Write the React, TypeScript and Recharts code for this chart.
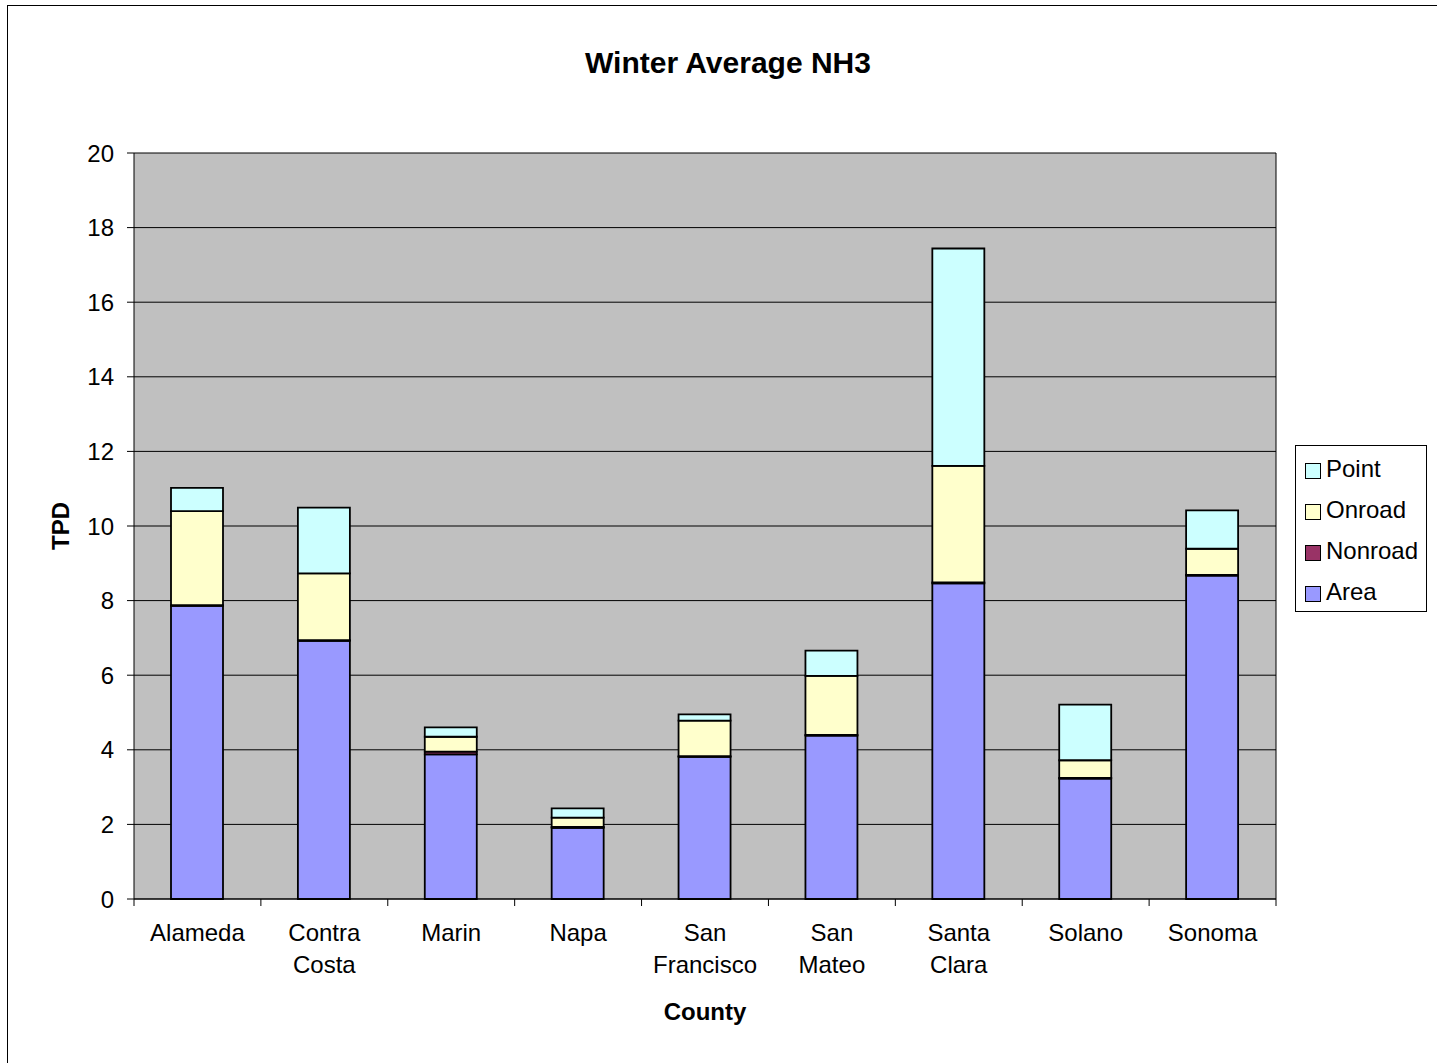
import React from "react";
import {
  Bar,
  BarChart,
  CartesianGrid,
  Legend,
  ReferenceLine,
  XAxis,
  YAxis,
} from "recharts";

const counties = [
  "Alameda",
  "Contra Costa",
  "Marin",
  "Napa",
  "San Francisco",
  "San Mateo",
  "Santa Clara",
  "Solano",
  "Sonoma",
];
const areaTpd = [7.86, 6.92, 3.88, 1.91, 3.81, 4.38, 8.46, 3.23, 8.67];
const nonroadTpd = [0.02, 0.02, 0.07, 0.02, 0.02, 0.02, 0.03, 0.02, 0.02];
const onroadTpd = [2.52, 1.79, 0.4, 0.25, 0.95, 1.58, 3.12, 0.47, 0.7];
const pointTpd = [0.62, 1.76, 0.25, 0.25, 0.17, 0.68, 5.83, 1.49, 1.03];
const tpdTicks = [0, 2, 4, 6, 8, 10, 12, 14, 16, 18, 20];

const series = [
  { key: "Area", fill: "#9999FF" },
  { key: "Nonroad", fill: "#993366" },
  { key: "Onroad", fill: "#FFFFCC" },
  { key: "Point", fill: "#CCFFFF" },
];

const rows = counties.map((county, i) => ({
  county,
  Area: areaTpd[i],
  Nonroad: nonroadTpd[i],
  Onroad: onroadTpd[i],
  Point: pointTpd[i],
}));

// category boundaries 0..n, used only for the tick marks between counties
const edgeTicks = counties.map((_, i) => i).concat(counties.length);
const countyIndex = (d: any) => counties.indexOf(d.county);

const FONT = "'Liberation Sans', Arial, sans-serif";

const CountyTick = ({ x, y, payload }: any) => {
  const words = String(payload.value).split(" ");
  return (
    <g>
      {words.map((w, i) => (
        <text
          key={w}
          x={x}
          y={y + 41 + i * 32}
          textAnchor="middle"
          fontSize={24}
          fill="#000"
          fontFamily={FONT}
        >
          {w}
        </text>
      ))}
    </g>
  );
};

const NoLabel = () => <g />;

const LegendBox = ({ payload }: any) => {
  const items = [...(payload || [])].reverse();
  return (
    <div
      style={{
        width: 130,
        height: 163,
        border: "1px solid #000",
        background: "#fff",
        paddingTop: 2,
        fontFamily: FONT,
        fontSize: 24,
        color: "#000",
      }}
    >
      {items.map((item: any) => (
        <div
          key={item.value}
          style={{ height: 41, display: "flex", alignItems: "center" }}
        >
          <span
            style={{
              display: "inline-block",
              width: 14,
              height: 14,
              marginLeft: 9,
              marginRight: 5,
              marginTop: 5,
              border: "1.5px solid #000",
              background: item.color,
            }}
          />
          <span>{item.value}</span>
        </div>
      ))}
    </div>
  );
};

const App = () => {
  return (
    <div
      style={{
        position: "absolute",
        left: 0,
        top: 0,
        width: 1437,
        height: 1063,
        overflow: "hidden",
        background: "#fff",
        fontFamily: FONT,
      }}
    >
      <div
        style={{
          position: "absolute",
          left: 7,
          top: 5,
          width: 1450,
          height: 1080,
          border: "1.5px solid #000",
        }}
      />
      <div
        style={{
          position: "absolute",
          left: 0,
          width: 1456,
          top: 48,
          textAlign: "center",
          fontSize: 30,
          fontWeight: "bold",
          lineHeight: 1,
        }}
      >
        Winter Average NH3
      </div>
      <BarChart
        width={1437}
        height={1063}
        data={rows}
        margin={{ top: 153, right: 161, bottom: 0, left: 0 }}
        barSize={52}
        style={{ position: "absolute", left: 0, top: 0 }}
      >
        <CartesianGrid
          xAxisId="county"
          vertical={false}
          fill="#C0C0C0"
          fillOpacity={1}
          stroke="#000"
        />
        <XAxis
          xAxisId={0}
          type="number"
          dataKey={countyIndex}
          domain={[0, counties.length]}
          allowDataOverflow
          ticks={edgeTicks}
          tick={<NoLabel />}
          tickSize={7}
          height={1}
          stroke="#000"
          axisLine={{ stroke: "#000" }}
          tickLine={{ stroke: "#000" }}
        />
        <XAxis
          xAxisId="county"
          dataKey="county"
          height={163}
          tickSize={0}
          tickMargin={0}
          axisLine={false}
          tickLine={false}
          interval={0}
          tick={<CountyTick />}
          label={{
            content: ({ viewBox }: any) => (
              <text
                x={viewBox.x + viewBox.width / 2}
                y={1020}
                textAnchor="middle"
                fontSize={24}
                fontWeight="bold"
                fill="#000"
                fontFamily={FONT}
              >
                County
              </text>
            ),
          }}
        />
        <YAxis
          width={134}
          domain={[0, 20]}
          ticks={tpdTicks}
          interval={0}
          tickSize={7}
          tickMargin={13}
          axisLine={{ stroke: "#000" }}
          tickLine={{ stroke: "#000" }}
          tick={{ fill: "#000", fontSize: 24, fontFamily: FONT }}
          label={{
            content: ({ viewBox }: any) => {
              const cy = viewBox.y + viewBox.height / 2;
              return (
                <text
                  x={69}
                  y={cy}
                  transform={`rotate(-90, 69, ${cy})`}
                  textAnchor="middle"
                  fontSize={24}
                  fontWeight="bold"
                  fill="#000"
                  fontFamily={FONT}
                >
                  TPD
                </text>
              );
            },
          }}
        />
        <ReferenceLine xAxisId={0} x={counties.length} stroke="#000" />
        {series.map((s) => (
          <Bar
            key={s.key}
            xAxisId="county"
            dataKey={s.key}
            stackId="tpd"
            fill={s.fill}
            stroke="#000"
            strokeWidth={1.8}
            isAnimationActive={false}
          />
        ))}
        <Legend
          layout="vertical"
          align="center"
          verticalAlign="middle"
          content={<LegendBox />}
          wrapperStyle={{ left: 1295, top: 445, width: 132, height: 165 }}
        />
      </BarChart>
    </div>
  );
};

export default App;
